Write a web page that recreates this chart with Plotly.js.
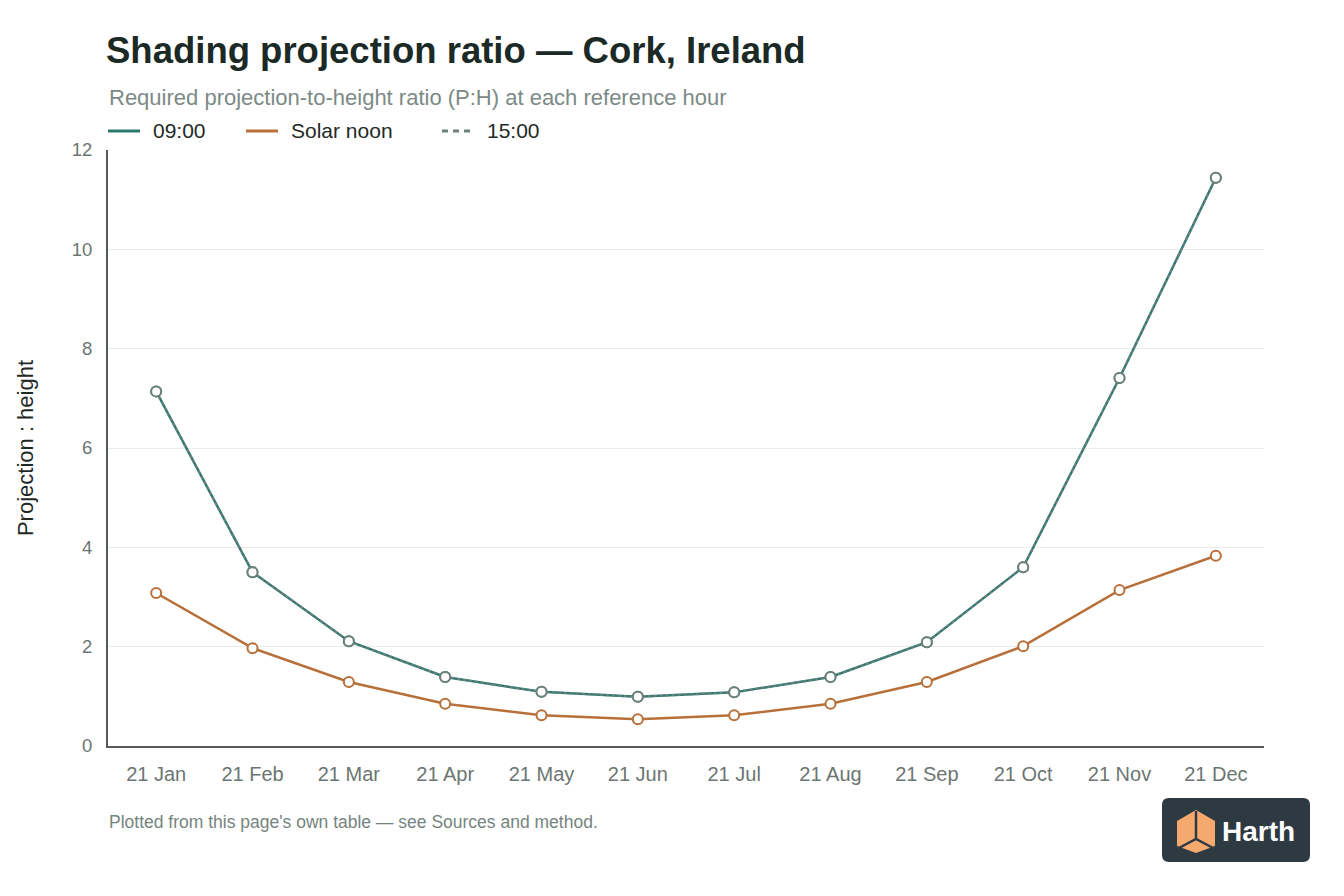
<!DOCTYPE html>
<html>
<head>
<meta charset="utf-8">
<script src="https://cdn.plot.ly/plotly-3.0.1.min.js"></script>
<style>
html,body{margin:0;padding:0;background:#fff;}
#chart{width:1344px;height:896px;}
</style>
</head>
<body>
<div id="chart"></div>
<script>
const categories = ["21 Jan","21 Feb","21 Mar","21 Apr","21 May","21 Jun","21 Jul","21 Aug","21 Sep","21 Oct","21 Nov","21 Dec"];
const morning = [7.14, 3.50, 2.11, 1.39, 1.09, 0.99, 1.08, 1.39, 2.09, 3.60, 7.41, 11.44];
const noon = [3.08, 1.97, 1.29, 0.85, 0.62, 0.54, 0.62, 0.85, 1.29, 2.01, 3.14, 3.83];
const afternoon = [7.14, 3.50, 2.11, 1.39, 1.09, 0.99, 1.08, 1.39, 2.09, 3.60, 7.41, 11.44];
const seriesNames = ["09:00", "Solar noon", "15:00"];
const yTicks = [0, 2, 4, 6, 8, 10, 12];

const W = 1344, H = 896;
const ML = 108, MR = 80, MT = 150, MB = 150;
const PW = W - ML - MR, PH = H - MT - MB;
const px = x => (x - ML) / PW;
const py = y => (H - MB - y) / PH;

const FONT = '"Liberation Sans", Arial, Helvetica, sans-serif';
const TEAL = '#2f7a70';
const ORANGE = '#b8703a';
const GREY = '#6e807b';

const traces = [
  {x: categories, y: morning, name: seriesNames[0], type: 'scatter', mode: 'lines+markers',
   line: {color: TEAL, width: 2.5}, marker: {size: 10, color: '#fff', line: {color: TEAL, width: 2}},
   showlegend: false, hoverinfo: 'skip'},
  {x: categories, y: noon, name: seriesNames[1], type: 'scatter', mode: 'lines+markers',
   line: {color: ORANGE, width: 2.5}, marker: {size: 10, color: '#fff', line: {color: ORANGE, width: 2}},
   showlegend: false, hoverinfo: 'skip'},
  {x: categories, y: afternoon, name: seriesNames[2], type: 'scatter', mode: 'lines+markers',
   line: {color: GREY, width: 2, dash: '3px,3px'}, marker: {size: 10, color: '#fff', line: {color: GREY, width: 2}},
   showlegend: false, hoverinfo: 'skip'}
];

const legendItems = [
  {x0: 108, color: TEAL, dash: 'solid', text: seriesNames[0]},
  {x0: 246, color: ORANGE, dash: 'solid', text: seriesNames[1]},
  {x0: 442, color: GREY, dash: '6px,5px', text: seriesNames[2]}
];

const shapes = [];
const annotations = [
  {text: 'Required projection-to-height ratio (P:H) at each reference hour', xref: 'paper', yref: 'paper',
   x: px(107), y: py(97), xanchor: 'left', yanchor: 'middle', showarrow: false,
   font: {family: FONT, size: 22, color: '#7b8a86'}},
  {text: "Plotted from this page's own table — see Sources and method.", xref: 'paper', yref: 'paper',
   x: px(107), y: py(822), xanchor: 'left', yanchor: 'middle', showarrow: false,
   font: {family: FONT, size: 17.5, color: '#76847f'}},
  {text: '<b>Harth</b>', xref: 'paper', yref: 'paper',
   x: px(1220), y: py(831), xanchor: 'left', yanchor: 'middle', showarrow: false,
   font: {family: FONT, size: 28, color: '#ffffff'}}
];

legendItems.forEach(it => {
  shapes.push({type: 'line', xref: 'paper', yref: 'paper', x0: px(it.x0), x1: px(it.x0 + 32),
    y0: py(131), y1: py(131), line: {color: it.color, width: 3, dash: it.dash}});
  annotations.push({text: it.text, xref: 'paper', yref: 'paper', x: px(it.x0 + 43), y: py(131),
    xanchor: 'left', yanchor: 'middle', showarrow: false, font: {family: FONT, size: 21, color: '#1f2a27'}});
});

// logo box (rounded rect)
const bx0 = 1162, bx1 = 1310, by0 = 798, by1 = 862, r = 7;
function P(x, y) { return px(x) + ',' + py(y); }
const rr = `M ${P(bx0 + r, by0)} L ${P(bx1 - r, by0)} Q ${P(bx1, by0)} ${P(bx1, by0 + r)} L ${P(bx1, by1 - r)} Q ${P(bx1, by1)} ${P(bx1 - r, by1)} L ${P(bx0 + r, by1)} Q ${P(bx0, by1)} ${P(bx0, by1 - r)} L ${P(bx0, by0 + r)} Q ${P(bx0, by0)} ${P(bx0 + r, by0)} Z`;
shapes.push({type: 'path', xref: 'paper', yref: 'paper', path: rr, fillcolor: '#2e3a41', line: {width: 0}});
const hex = `M ${P(1196, 810)} L ${P(1215, 821)} L ${P(1215, 846)} L ${P(1196, 853)} L ${P(1177, 846)} L ${P(1177, 821)} Z`;
shapes.push({type: 'path', xref: 'paper', yref: 'paper', path: hex, fillcolor: '#f6a96f', line: {width: 0}});
const ylines = `M ${P(1196, 811)} L ${P(1196, 839)} M ${P(1179, 848)} L ${P(1196, 839)} L ${P(1213, 848)}`;
shapes.push({type: 'path', xref: 'paper', yref: 'paper', path: ylines, line: {color: '#2e3a41', width: 2.5}});

const layout = {
  width: W, height: H,
  paper_bgcolor: '#ffffff', plot_bgcolor: '#ffffff',
  margin: {l: ML, r: MR, t: MT, b: MB, pad: 0},
  showlegend: false,
  font: {family: FONT, color: '#6b7673'},
  title: {text: '<b>Shading projection ratio — Cork, Ireland</b>', xref: 'container', yref: 'container',
    x: 106 / W, xanchor: 'left', y: 1 - 50 / H, yanchor: 'middle',
    font: {family: FONT, size: 36.5, color: '#1b2a26'}},
  xaxis: {
    type: 'category', tickvals: categories, ticktext: categories,
    showgrid: false, zeroline: false,
    showline: true, linecolor: '#555b59', linewidth: 2,
    ticks: '', ticklen: 0, ticklabelstandoff: 9, tickfont: {family: FONT, size: 20, color: '#6b7673'},
    range: [-0.5, 11.5], fixedrange: true
  },
  yaxis: {
    range: [0, 12], tickvals: yTicks, ticktext: yTicks.map(String),
    showgrid: true, gridcolor: '#e9eceb', gridwidth: 1,
    zeroline: false, showline: true, linecolor: '#555b59', linewidth: 2,
    ticks: '', ticklabelstandoff: 10, tickfont: {family: FONT, size: 18.5, color: '#6b7673'},
    title: {text: 'Projection : height', standoff: 32, font: {family: FONT, size: 22, color: '#1f2a27'}},
    fixedrange: true
  },
  shapes: shapes,
  annotations: annotations
};

Plotly.newPlot('chart', traces, layout, {displayModeBar: false, staticPlot: true});
</script>
</body>
</html>
